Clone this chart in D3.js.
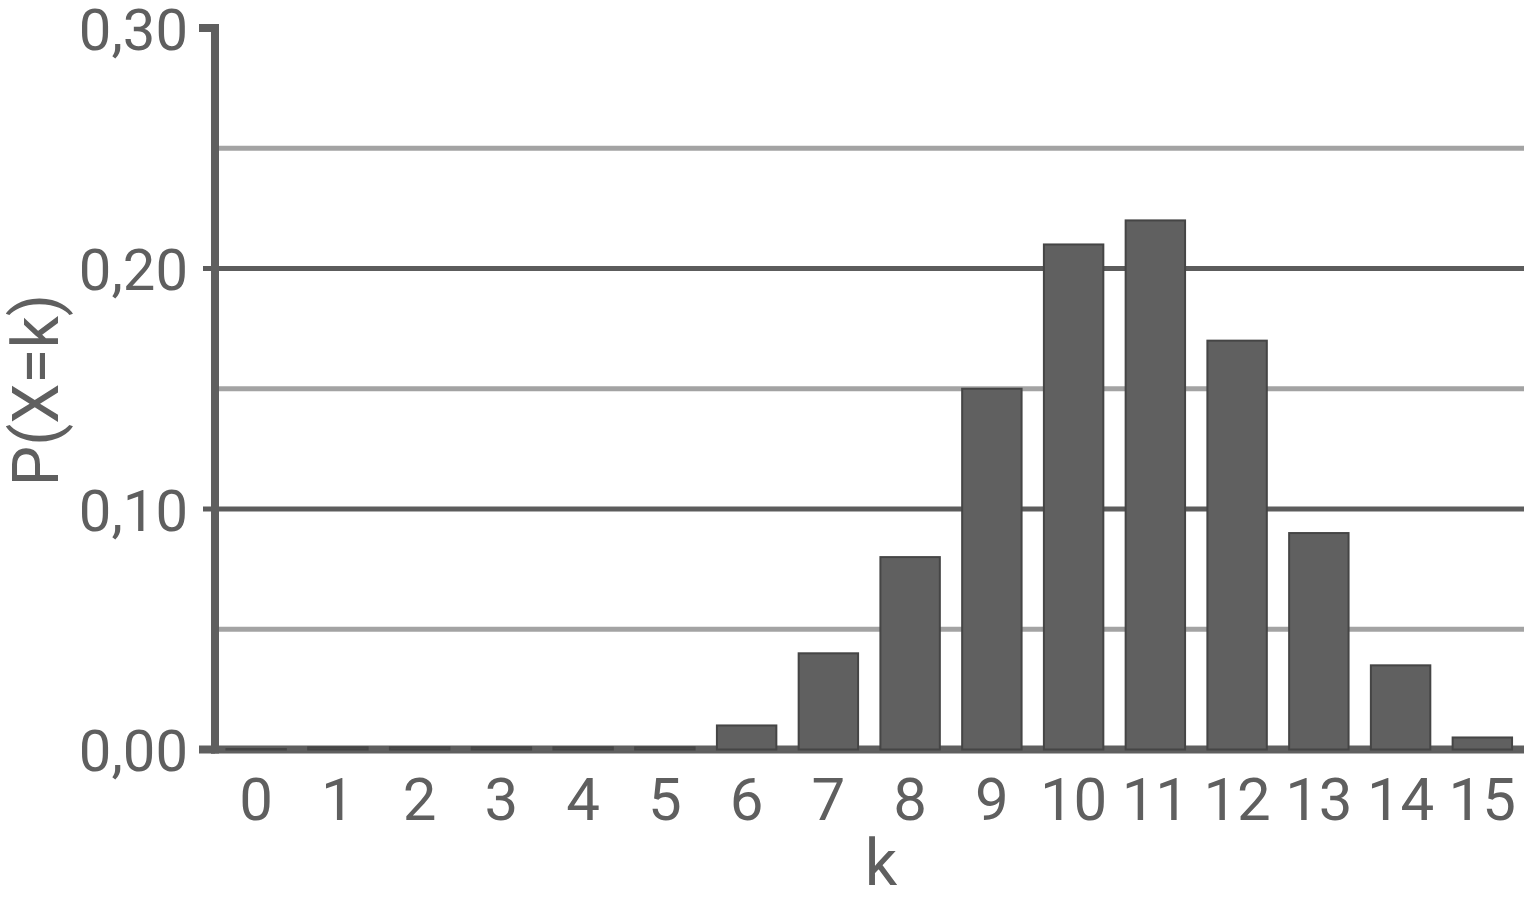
<!DOCTYPE html>
<html>
<head>
<meta charset="utf-8">
<script src="https://cdn.jsdelivr.net/npm/d3@7"></script>
<style>
  html, body { margin: 0; padding: 0; background: #ffffff; }
  svg { display: block; }
  text { font-family: Roboto, "Noto Sans", sans-serif; fill: #5f5f5f; }
</style>
</head>
<body>
<svg id="chart" width="1524" height="904"></svg>
<script>
const categories = ["0","1","2","3","4","5","6","7","8","9","10","11","12","13","14","15"];
const probabilities = [0.0002, 0.0009, 0.0009, 0.0009, 0.0009, 0.0009, 0.010, 0.040, 0.080, 0.150, 0.210, 0.220, 0.170, 0.090, 0.035, 0.005];
const majorTicks = [0, 0.10, 0.20, 0.30];
const minorTicks = [0.05, 0.15, 0.25];
const xTitle = "k";
const yTitle = "P(X=k)";

const svg = d3.select("#chart");
const axisX = 215, right = 1524;
const yBottom = 749.5, yTop = 28;

const x = d3.scaleBand().domain(categories).range([axisX, 1523.5]).paddingInner(0.273).paddingOuter(0.14);
const y = d3.scaleLinear().domain([0, 0.30]).range([yBottom, yTop]);
const fmt = v => d3.format(".2f")(v).replace(".", ",");

// minor gridlines
svg.append("g").selectAll("line").data(minorTicks).join("line")
  .attr("x1", axisX).attr("x2", right)
  .attr("y1", d => y(d)).attr("y2", d => y(d))
  .attr("stroke", "#a3a3a3").attr("stroke-width", 5);

// major gridlines (with tick stubs)
svg.append("g").selectAll("line").data(majorTicks.filter(d => d > 0 && d < 0.3)).join("line")
  .attr("x1", 203).attr("x2", right)
  .attr("y1", d => y(d)).attr("y2", d => y(d))
  .attr("stroke", "#5c5c5c").attr("stroke-width", 5);

// top tick and bottom tick stubs
svg.append("g").selectAll("line").data([0, 0.30]).join("line")
  .attr("x1", 199).attr("x2", axisX)
  .attr("y1", d => y(d)).attr("y2", d => y(d))
  .attr("stroke", "#5f5f5f").attr("stroke-width", 8);

// x axis line (under the bars)
svg.append("line")
  .attr("x1", axisX - 4).attr("x2", right)
  .attr("y1", y(0)).attr("y2", y(0))
  .attr("stroke", "#5f5f5f").attr("stroke-width", 8);

// bars
svg.append("g").selectAll("rect").data(probabilities).join("rect")
  .attr("x", (d, i) => x(categories[i]))
  .attr("width", x.bandwidth())
  .attr("y", d => y(d))
  .attr("height", d => y(0) - y(d))
  .attr("fill", "#606060")
  .attr("stroke", "#454545").attr("stroke-width", 2);

// y axis line
svg.append("line")
  .attr("x1", axisX).attr("x2", axisX)
  .attr("y1", y(0.30) - 4).attr("y2", y(0) + 4)
  .attr("stroke", "#5f5f5f").attr("stroke-width", 8);

// y tick labels
const yAxis = d3.axisLeft(y).tickValues(majorTicks).tickFormat(fmt).tickSize(0).tickPadding(0);
const gy = svg.append("g").attr("transform", "translate(188,0)").call(yAxis);
gy.select(".domain").remove();
gy.selectAll("text").attr("font-size", 58).attr("dy", "0.37em").attr("fill", "#5f5f5f")
  .attr("font-family", "Roboto, sans-serif");

// x tick labels
const xAxis = d3.axisBottom(x).tickSize(0).tickPadding(0);
const gx = svg.append("g").attr("transform", "translate(0,820)").call(xAxis);
gx.select(".domain").remove();
gx.selectAll("text").attr("font-size", 60).attr("dy", 0).attr("fill", "#5f5f5f")
  .attr("font-family", "Roboto, sans-serif");

// axis titles
svg.append("text").attr("x", 881).attr("y", 885)
  .attr("text-anchor", "middle").attr("font-size", 64).text(xTitle);
svg.append("text").attr("transform", "translate(58,390) rotate(-90)")
  .attr("text-anchor", "middle").attr("font-size", 64).text(yTitle);
</script>
</body>
</html>
